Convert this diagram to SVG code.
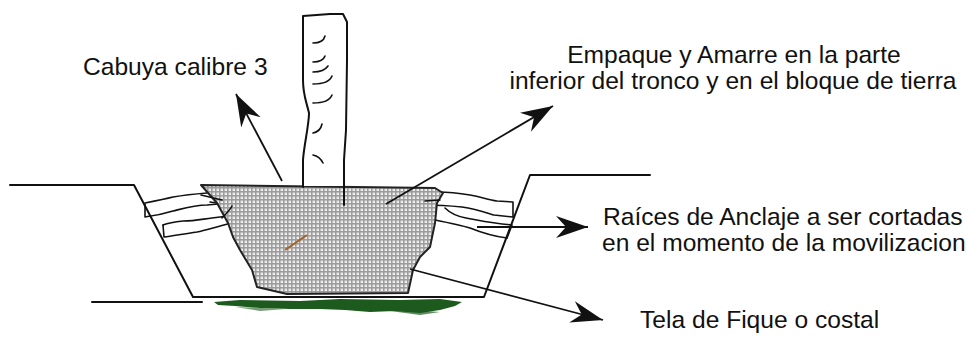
<svg xmlns="http://www.w3.org/2000/svg" width="980" height="343" viewBox="0 0 980 343">
  <style>
    .ln { fill: none; stroke: #111; stroke-width: 2; stroke-linejoin: round; stroke-linecap: round; }
    .thin { fill: none; stroke: #111; stroke-width: 1.6; stroke-linejoin: round; stroke-linecap: round; }
    .conn { fill: none; stroke: #111; stroke-width: 1.8; }
    .lbl { font-family: "Liberation Sans", Arial, sans-serif; font-size: 24.6px; fill: #111; }
  </style>
  <defs>
    <pattern id="mesh" width="4" height="4" patternUnits="userSpaceOnUse">
      <rect width="4" height="4" fill="#9c9c9c"/>
      <rect x="0.6" y="0.6" width="2.4" height="2.4" fill="#f4f4f4"/>
      <rect x="1.4" y="1.4" width="0.8" height="0.8" fill="#c4c4c4"/>
    </pattern>
    <marker id="head" viewBox="-32 -12 34 24" refX="0" refY="0" markerWidth="34" markerHeight="24" markerUnits="userSpaceOnUse" orient="auto">
      <path d="M0,0 L-32,-11 L-22,0 L-32,11 Z" fill="#111"/>
    </marker>
  </defs>
  <rect width="980" height="343" fill="#fff"/>

  <!-- ground surface and planting pit -->
  <g id="pit">
    <path class="ln" d="M10,185 L134,185 L193,297 L484,297 L530,175 L650,175"/>
    <path class="ln" d="M92,302 L202,302"/>
  </g>

  <!-- fique cloth under the root ball -->
  <g id="cloth" fill="#1d5a1d">
    <path d="M214,302 L240,300 L300,301 L340,299 L400,300 L440,299 L462,302 L455,306 L440,310 L420,313 L395,311 L370,312 L345,310 L320,309 L290,309 L260,308 L235,306 L218,305 Z"/>
    <path d="M390,311 L420,315 L440,312 L425,311 Z" opacity="0.7"/>
    <path d="M235,307 L260,311 L285,309 Z" opacity="0.6"/>
  </g>

  <!-- roots crossing the pit walls -->
  <g id="roots-left">
    <path class="thin" d="M145,203 C155,201 165,199 173,197 C185,195 195,194 207,193"/>
    <path class="thin" d="M145,204 L145,217 C152,216 160,215 173,211 C185,208 195,205 207,205 L230,203"/>
    <path class="thin" d="M210,202 L230,205"/>
    <path class="thin" d="M163,225 C168,223 173,222 183,221 C195,221 203,219 212,218 L228,216"/>
    <path class="thin" d="M163,225 L164,237 C172,236 183,234 197,232 C207,230 215,227 232,223"/>
  </g>
  <g id="roots-right">
    <path class="thin" d="M438,192 C448,192 458,193 470,195 C482,197 488,200 497,201 L513,202 L513,217"/>
    <path class="thin" d="M425,205 C440,205 452,206 462,207 C475,209 484,212 494,215 L513,217"/>
    <path class="thin" d="M445,208 C450,213 455,216 466,218 C478,220 490,223 512,225 L507,238"/>
    <path class="thin" d="M435,220 C450,223 460,225 470,228 C480,232 490,236 507,238"/>
  </g>

  <!-- wrapped root ball -->
  <g id="rootball">
    <path d="M201,185 L435,188 L443,193 L437,203 L435,223 L430,247 L420,257 L413,270 L408,293 L287,294 L257,287 L252,270 L240,250 L233,237 L228,223 L217,203 Z" fill="url(#mesh)" stroke="#222" stroke-width="2" stroke-linejoin="round"/>
    <path class="thin" d="M201,195 L222,200"/>
    <path class="thin" d="M222,218 C226,214 230,210 232,206"/>
    <path class="thin" d="M425,201 L440,200"/>
    <path d="M285,250 L307,235" stroke="#a0602a" stroke-width="2" fill="none"/>
  </g>

  <!-- trunk with bark marks -->
  <g id="trunk">
    <path d="M303,186 L303,160 C304,145 309,125 309,113 C306,100 303,95 303,80 L303,16 L330,14 L343,14 L347,22 L347,60 L346,130 L344,160 L344,186 Z" fill="#fff" stroke="none"/>
    <path class="ln" d="M303,187 L303,160 C304,145 309,125 309,113 C306,100 303,95 303,80 L303,16 L330,14 L343,14 L347,22 L347,60 L346,130 L344,160 L344,186 L344,205"/>
    <g class="thin">
      <path d="M313,43 C320,43 324,40 325,36"/>
      <path d="M313,62 C320,62 324,59 325,56"/>
      <path d="M313,72 C321,72 326,69 328,66"/>
      <path d="M313,84 C323,84 330,81 332,76"/>
      <path d="M313,103 C323,103 330,100 332,95"/>
      <path d="M313,133 C318,132 321,129 322,124"/>
      <path d="M313,155 C318,156 321,159 323,163"/>
    </g>
  </g>

  <!-- leader arrows -->
  <g id="connectors">
    <path class="conn" d="M282,181 L236,94" marker-end="url(#head)"/>
    <path class="conn" d="M386,204 L553,106" marker-end="url(#head)"/>
    <path class="conn" d="M477,227 L588,227" marker-end="url(#head)"/>
    <path class="conn" d="M410,269 L603,320" marker-end="url(#head)"/>
  </g>

  <!-- labels -->
  <g id="label-cabuya">
    <text class="lbl" x="83" y="75">Cabuya calibre 3</text>
  </g>
  <g id="label-empaque">
    <text class="lbl" x="734" y="63" text-anchor="middle">Empaque y Amarre en la parte</text>
    <text class="lbl" x="733" y="89" text-anchor="middle">inferior del tronco y en el bloque de tierra</text>
  </g>
  <g id="label-raices">
    <text class="lbl" x="603" y="225">Raíces de Anclaje a ser cortadas</text>
    <text class="lbl" x="602" y="251">en el momento de la movilizacion</text>
  </g>
  <g id="label-tela">
    <text class="lbl" x="640" y="328">Tela de Fique o costal</text>
  </g>
</svg>
